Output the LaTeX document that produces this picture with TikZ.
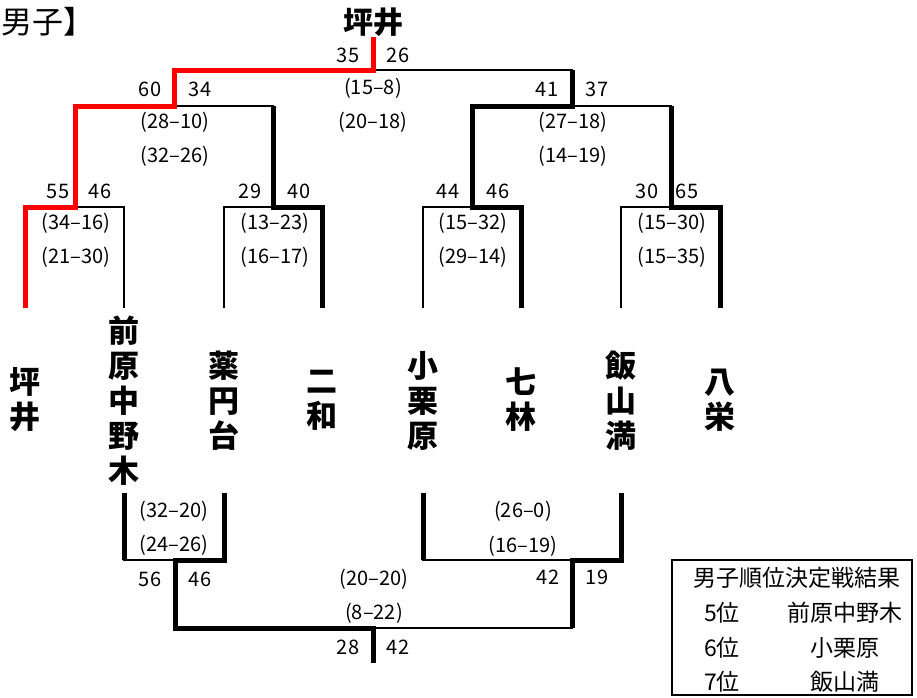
\documentclass[tikz,border=0pt]{standalone}
\usepackage{fontspec}
\setmainfont{Noto Sans CJK JP}
\usepackage{tikz}
\usetikzlibrary{positioning, calc}

\newcommand{\scorefont}{\fontsize{20}{22}\selectfont}
\newcommand{\teamfont}{\fontsize{31}{35}\selectfont\bfseries}
\newcommand{\legendfont}{\fontsize{23}{24}\selectfont}

\begin{document}
\begin{tikzpicture}[x=1pt, y=-1pt,
  score/.style={font=\scorefont, inner sep=0pt},
  team/.style={font=\teamfont, align=center, inner sep=0pt},
  thinline/.style={line width=1.2pt},
  thickline/.style={line width=5pt},
  redline/.style={line width=5pt, red},
  legendtext/.style={font=\legendfont, inner sep=0pt}]
\useasboundingbox (0,0) rectangle (917,697);

\node[anchor=west, font=\fontsize{31}{32}\selectfont, inner sep=0pt] (title) at (1,22) {男子】};
\node[font=\fontsize{30}{32}\selectfont\bfseries, inner sep=0pt] (champion) at (373,22) {坪井};

% teams
\node[team] (T1) at (25,400) {坪\\井};
\node[team] (T2) at (124,401) {前\\原\\中\\野\\木};
\node[team] (T3) at (224,401) {薬\\円\\台};
\node[team] (T4) at (322,400) {二\\和};
\node[team] (T5) at (423,401) {小\\栗\\原};
\node[team] (T6) at (521,400) {七\\林};
\node[team] (T7) at (621,401) {飯\\山\\満};
\node[team] (T8) at (720,400) {八\\栄};

% upper bracket
\coordinate (u1) at (25,308);
\coordinate (u2) at (124,308);
\coordinate (u3) at (224,308);
\coordinate (u4) at (322,308);
\coordinate (u5) at (423,308);
\coordinate (u6) at (521,308);
\coordinate (u7) at (621,308);
\coordinate (u8) at (720,308);
\coordinate (m1) at (75,207);
\coordinate (m2) at (273,207);
\coordinate (m3) at (472,207);
\coordinate (m4) at (671,207);
\coordinate (s1) at (174,106);
\coordinate (s2) at (572,106);
\coordinate (f) at (373,70);
\coordinate (top) at (373,37);

\draw[thinline] (u1) |- (m1) -| (u2);
\draw[thinline] (u3) |- (m2) -| (u4);
\draw[thinline] (u5) |- (m3) -| (u6);
\draw[thinline] (u7) |- (m4) -| (u8);
\draw[thinline] (m1) |- (s1) -| (m2);
\draw[thinline] (m3) |- (s2) -| (m4);
\draw[thinline] (s1) |- (f) -| (s2);

\draw[thickline] (u4) |- (m2) -- (m2 |- s1);
\draw[thickline] (u6) |- (m3) |- (s2) -- (s2 |- f);
\draw[thickline] (u8) |- (m4) -- (m4 |- s2);
\draw[redline] (u1) |- (m1) |- (s1) |- (f) -- (top);

% lower bracket
\coordinate (d2) at (124,493);
\coordinate (d3) at (224,493);
\coordinate (d5) at (423,493);
\coordinate (d7) at (621,493);
\coordinate (p1) at (175,560);
\coordinate (p2) at (572,560);
\coordinate (q) at (373,628);
\coordinate (fin) at (373,663);

\draw[thinline] (d2) |- (p1) -| (d3);
\draw[thinline] (d5) |- (p2) -| (d7);
\draw[thinline] (p1) |- (q) -| (p2);

\draw[thickline] (d2) -- (d2 |- p1);
\draw[thickline] (d5) -- (d5 |- p2);
\draw[thickline] (d3) |- (p1) |- (q) -- (fin);
\draw[thickline] (d7) |- (p2) -- (p2 |- q);

% scores
\node[score] (a1) at (348,55) {35};
\node[score] (a2) at (398,55) {26};
\node[score] (a3) at (373,88) {(15–8)};
\node[score] (a4) at (373,122) {(20–18)};
\node[score] (b1) at (150,89) {60};
\node[score] (b2) at (200,89) {34};
\node[score] (b3) at (175,122) {(28–10)};
\node[score] (b4) at (175,156) {(32–26)};
\node[score] (c1) at (547,89) {41};
\node[score] (c2) at (597,89) {37};
\node[score] (c3) at (573,122) {(27–18)};
\node[score] (c4) at (573,156) {(14–19)};
\node[score] (e1) at (58,191) {55};
\node[score] (e2) at (100,191) {46};
\node[score] (e3) at (76,223) {(34–16)};
\node[score] (e4) at (76,257) {(21–30)};
\node[score] (g1) at (250,191) {29};
\node[score] (g2) at (299,191) {40};
\node[score] (g3) at (275,223) {(13–23)};
\node[score] (g4) at (275,257) {(16–17)};
\node[score] (h1) at (448,191) {44};
\node[score] (h2) at (498,191) {46};
\node[score] (h3) at (473,223) {(15–32)};
\node[score] (h4) at (473,257) {(29–14)};
\node[score] (k1) at (647,191) {30};
\node[score] (k2) at (687,191) {65};
\node[score] (k3) at (672,223) {(15–30)};
\node[score] (k4) at (672,257) {(15–35)};

\node[score] (l1) at (174,511) {(32–20)};
\node[score] (l2) at (174,545) {(24–26)};
\node[score] (l3) at (150,579) {56};
\node[score] (l4) at (200,579) {46};
\node[score] (r1) at (523,511) {(26–0)};
\node[score] (r2) at (523,546) {(16–19)};
\node[score] (r3) at (548,577) {42};
\node[score] (r4) at (597,577) {19};
\node[score] (w1) at (374,579) {(20–20)};
\node[score] (w2) at (374,613) {(8–22)};
\node[score] (w3) at (348,647) {28};
\node[score] (w4) at (398,647) {42};

% result box
\node[draw, line width=1.4pt, minimum width=240pt, minimum height=135pt, inner sep=0pt] (results) at (792,627.5) {};
\node[legendtext] (rhead) at (797,578) {男子順位決定戦結果};
\node[legendtext] (p5) at (722,613) {5位};
\node[legendtext] (p6) at (722,648) {6位};
\node[legendtext] (p7) at (722,682) {7位};
\node[legendtext] (n5) at (845,613) {前原中野木};
\node[legendtext] (n6) at (845,648) {小栗原};
\node[legendtext] (n7) at (845,682) {飯山満};
\end{tikzpicture}
\end{document}
